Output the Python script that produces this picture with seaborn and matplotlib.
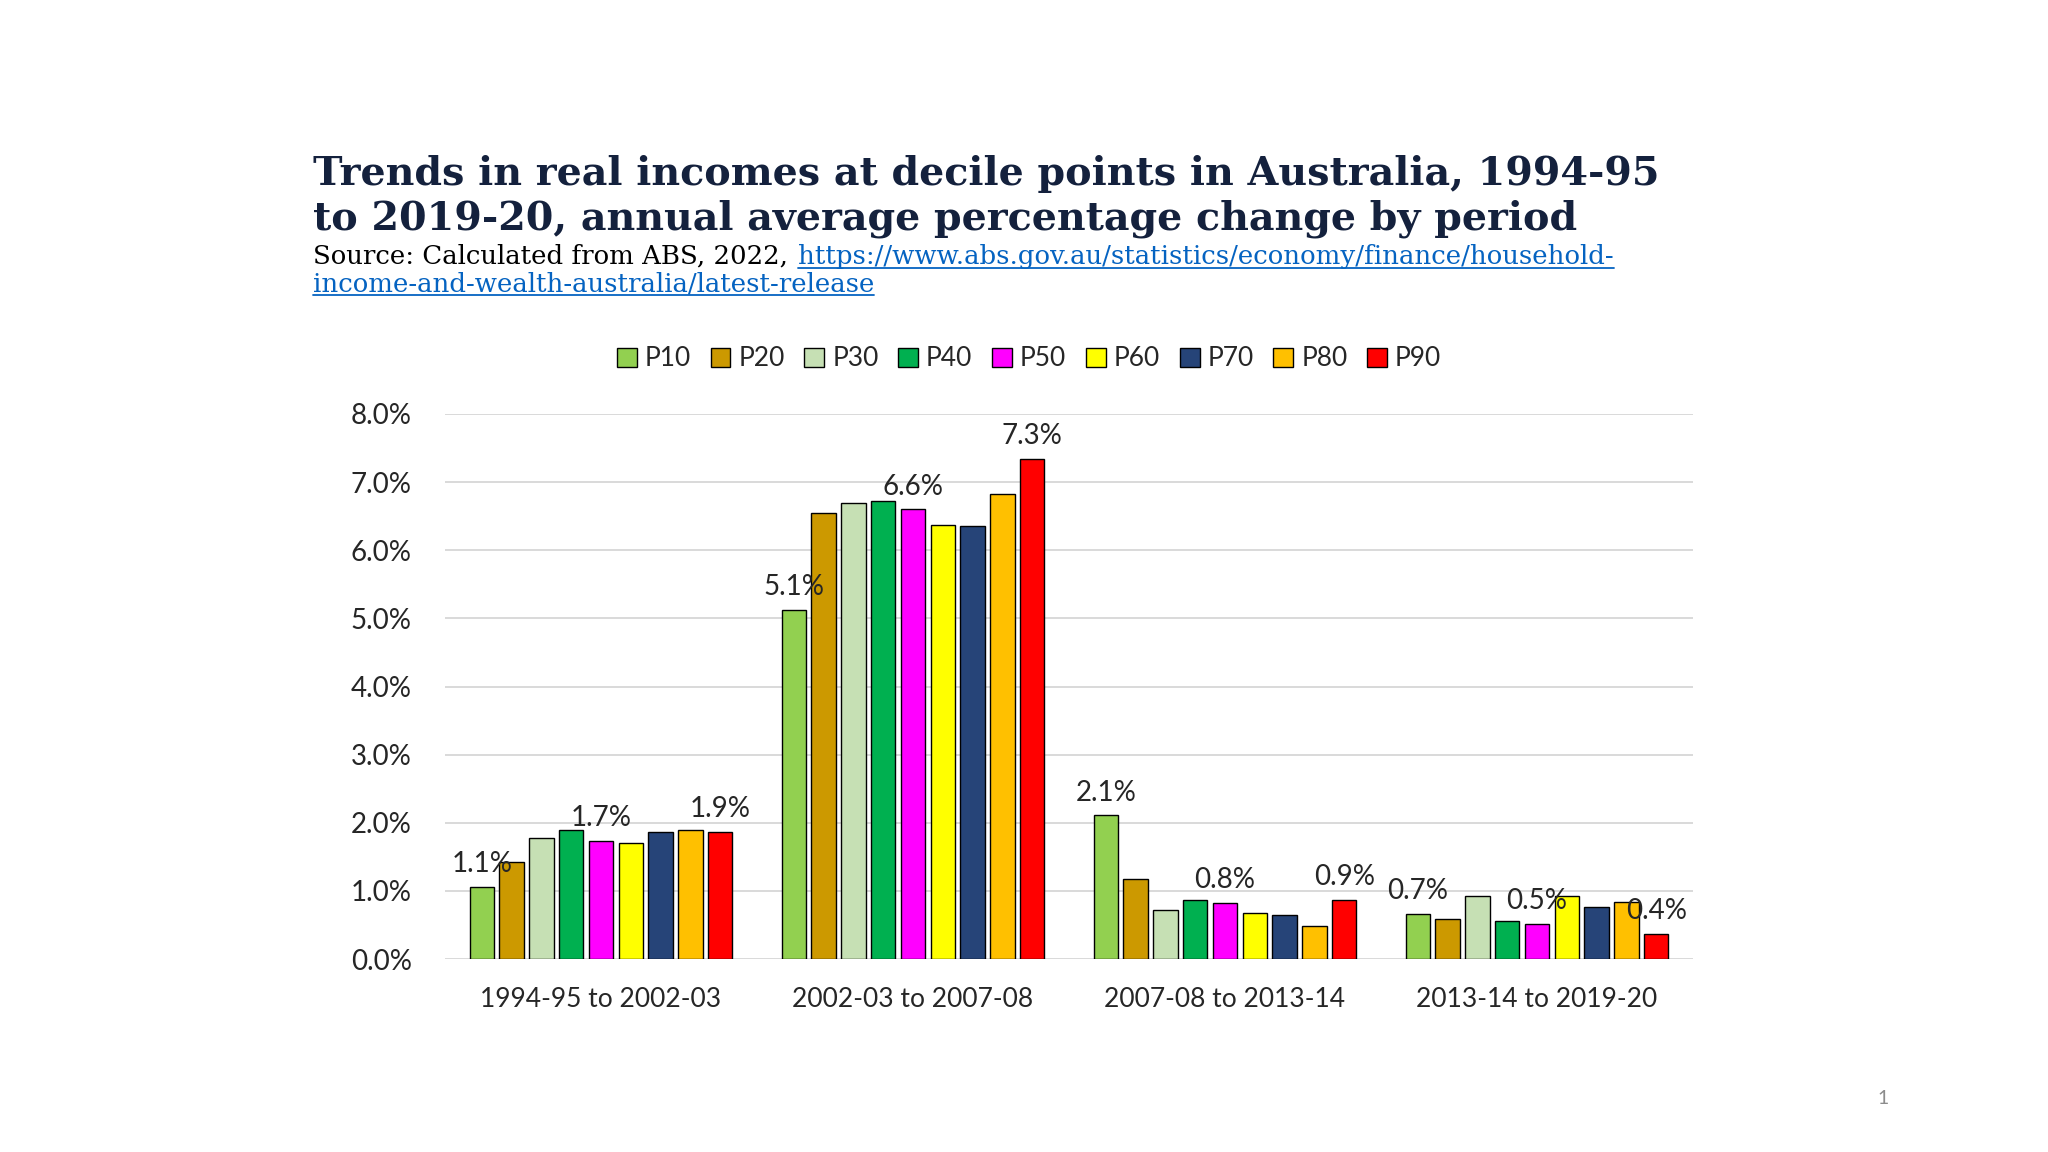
import matplotlib

matplotlib.use("Agg")
import matplotlib.pyplot as plt
import pandas as pd
import seaborn as sns
from matplotlib.lines import Line2D
from matplotlib.patches import Patch
from matplotlib.ticker import FuncFormatter

W, H = 2048, 1152

periods = [
    "1994-95 to 2002-03",
    "2002-03 to 2007-08",
    "2007-08 to 2013-14",
    "2013-14 to 2019-20",
]
deciles = ["P10", "P20", "P30", "P40", "P50", "P60", "P70", "P80", "P90"]

# annual average % change
p10 = [1.06, 5.12, 2.11, 0.66]
p20 = [1.43, 6.55, 1.17, 0.59]
p30 = [1.78, 6.69, 0.72, 0.93]
p40 = [1.90, 6.72, 0.87, 0.56]
p50 = [1.73, 6.60, 0.82, 0.52]
p60 = [1.71, 6.37, 0.68, 0.93]
p70 = [1.86, 6.35, 0.65, 0.77]
p80 = [1.90, 6.82, 0.49, 0.84]
p90 = [1.87, 7.34, 0.87, 0.37]

decile_colors = [
    "#92D050", "#CC9900", "#C6E0B4", "#00B050", "#FF00FF",
    "#FFFF00", "#264478", "#FFC000", "#FF0000",
]
labelled = ["P10", "P50", "P90"]

rows = []
for dec, vals in zip(deciles, [p10, p20, p30, p40, p50, p60, p70, p80, p90]):
    for per, v in zip(periods, vals):
        rows.append({"period": per, "decile": dec, "value": v})
df = pd.DataFrame(rows)

sns.set_theme(style="white")
plt.rcParams["font.family"] = ["Lato", "DejaVu Sans"]

fig = plt.figure(figsize=(W / 100, H / 100), dpi=100)
fig.patch.set_facecolor("white")

# axes box: x 445..1693 px, y 414..959 px
ax = fig.add_axes([445 / W, 1 - 959 / H, (1693 - 445) / W, (959 - 414) / H])

sns.barplot(
    data=df,
    x="period",
    y="value",
    hue="decile",
    order=periods,
    hue_order=deciles,
    palette=dict(zip(deciles, decile_colors)),
    saturation=1,
    width=0.86,
    gap=0.18,
    edgecolor="black",
    linewidth=1.0,
    errorbar=None,
    legend=False,
    ax=ax,
)

ax.set_ylim(0, 8)
ax.set_yticks(range(0, 9))
ax.yaxis.set_major_formatter(FuncFormatter(lambda v, _: f"{v:.1f}%"))
ax.yaxis.grid(True, color="#D9D9D9", linewidth=1.4)
ax.set_axisbelow(True)
for s in ax.spines.values():
    s.set_visible(False)
ax.set_xlabel("")
ax.set_ylabel("")
ax.tick_params(axis="both", length=0, labelsize=20, colors="#262626")
ax.tick_params(axis="y", pad=24)
ax.tick_params(axis="x", pad=20, labelsize=19)

# data labels on P10, P50, P90
for dec, cont in zip(deciles, ax.containers):
    if dec in labelled:
        ax.bar_label(cont, fmt="{:.1f}%", padding=7, fontsize=20, color="#262626")

# legend
handles = [Patch(facecolor=c, edgecolor="black", linewidth=1.0) for c in decile_colors]
fig.legend(
    handles,
    deciles,
    loc="center",
    bbox_to_anchor=(1029 / W, 1 - 359 / H),
    ncol=9,
    frameon=False,
    fontsize=19,
    handlelength=0.75,
    handleheight=0.75,
    handletextpad=0.3,
    columnspacing=0.75,
)

# title
title_kw = dict(fontfamily="DejaVu Serif", fontweight="bold", fontsize=28.5, color="#14213D", va="baseline")
fig.text(313 / W, 1 - 185 / H, "Trends in real incomes at decile points in Australia, 1994-95", **title_kw)
fig.text(313 / W, 1 - 229 / H, "to 2019-20, annual average percentage change by period", **title_kw)

# source line with link
src_kw = dict(fontfamily="DejaVu Serif", fontsize=18.7, va="baseline")
link_color = "#0563C1"
renderer = fig.canvas.get_renderer()
src = fig.text(313 / W, 1 - 264 / H, "Source: Calculated from ABS, 2022,", color="black", **src_kw)
bb = src.get_window_extent(renderer)
link1_x = bb.x1 + 10
link1 = fig.text(link1_x / W, 1 - 264 / H,
                 "https://www.abs.gov.au/statistics/economy/finance/household-",
                 color=link_color, **src_kw)
link2 = fig.text(313 / W, 1 - 291 / H,
                 "income-and-wealth-australia/latest-release",
                 color=link_color, **src_kw)
for t, base in [(link1, 264), (link2, 291)]:
    b = t.get_window_extent(renderer)
    y = 1 - (base + 4) / H
    fig.add_artist(Line2D([b.x0 / W, b.x1 / W], [y, y], color=link_color,
                          linewidth=1.3, transform=fig.transFigure))

# slide number
fig.text(1883 / W, 1 - 1098 / H, "1", fontsize=14, color="#8C8C8C", ha="center", va="center")

fig.savefig("out.png", dpi=100)
